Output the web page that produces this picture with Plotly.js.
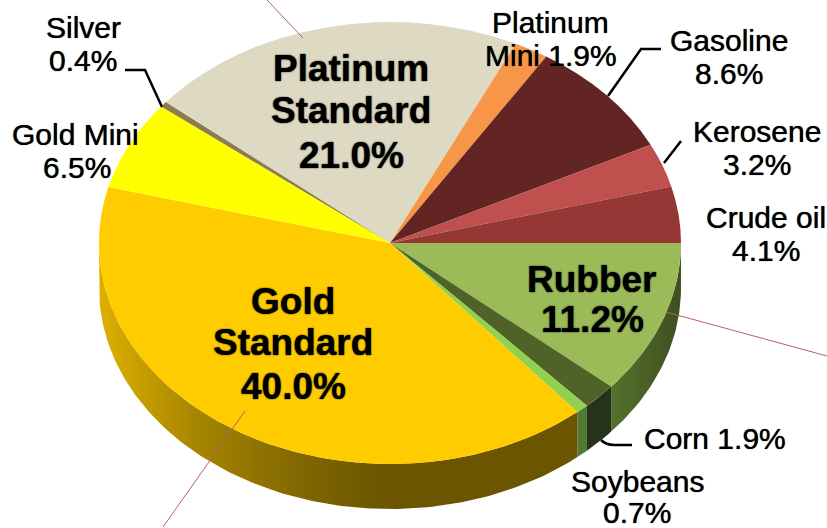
<!DOCTYPE html>
<html>
<head>
<meta charset="utf-8">
<script src="https://cdn.plot.ly/plotly-3.0.1.min.js"></script>
<style>html,body{margin:0;padding:0;background:#fff}#chart{width:827px;height:528px}</style>
</head>
<body>
<div id="chart"></div>
<script>
// Data (clockwise from 3 o'clock)
var categories = ['Rubber','Corn','Soybeans','Gold Standard','Gold Mini','Silver','Platinum Standard','Platinum Mini','Gasoline','Kerosene','Crude oil'];
var shares = [11.2,1.9,0.7,40.0,6.5,0.4,21.0,1.9,8.6,3.2,4.1];
var topColors = ['#9BBB59','#4F6228','#92D050','#FFCC00','#FFFF00','#8C7A50','#DDD9C3','#F79646','#632523','#C0504D','#953735'];
var wallRamps = [
  [[0,'#55702C'],[1,'#3F5020']],
  [[0,'#26331A'],[1,'#26331A']],
  [[0,'#4F7A30'],[1,'#4F7A30']],
  [[0,'#DDB000'],[0.2,'#A88600'],[0.42,'#806700'],[0.6,'#6B5500'],[1,'#6B5500']]
];

var labelLines = [
 ['Silver',83,27,30,false],['0.4%',83,60,30,false],
 ['Gold Mini',75,134,30,false],['6.5%',77,167,30,false],
 ['Platinum',351,68,37,true],['Standard',351,110,37,true],['21.0%',351,155,37,true],
 ['Platinum',550,22,30,false],['Mini 1.9%',551,55,30,false],
 ['Gasoline',729,40,30,false],['8.6%',729,73,30,false],
 ['Kerosene',757,131,30,false],['3.2%',757,164,30,false],
 ['Crude oil',766,217,30,false],['4.1%',766,250,30,false],
 ['Rubber',592,279,37,true],['11.2%',592,319,37,true],
 ['Corn 1.9%',715,438,30,false],
 ['Soybeans',637,481,30,false],['0.7%',637,512,30,false],
 ['Gold',293,301,37,true],['Standard',293,342,37,true],['40.0%',293,386,37,true]
];
var blackLeaders = ['M125,70 L145,70 L162,107','M661,49 L641,49 L608,96','M681,141 L664,163','M632,445 L614,445 Q606,445 601,440'];
var redLeaders = ['M267,0 L303,38','M666,312 L827,356','M245,411 L163,527'];

var cx = 390, cy = 243, rx = 291, ry = 221, depth = 45;
var W = 827, H = 528;
var total = shares.reduce(function(a,b){return a+b;},0);

var traces = [];
var start = 0;
wallRamps.forEach(function(ramp,i){
  var end = start + shares[i]/total*360;
  var stop = Math.min(end,180);
  var xs=[], ys=[], a;
  var n = Math.max(2,Math.ceil(stop-start));
  for(var k=0;k<=n;k++){ a=(start+(stop-start)*k/n)*Math.PI/180; xs.push(cx+rx*Math.cos(a)); ys.push(cy+ry*Math.sin(a)); }
  for(k=n;k>=0;k--){ a=(start+(stop-start)*k/n)*Math.PI/180; xs.push(cx+rx*Math.cos(a)); ys.push(cy+depth+ry*Math.sin(a)); }
  xs.push(xs[0]); ys.push(ys[0]);
  traces.push({type:'scatter',mode:'lines',x:xs,y:ys,fill:'toself',line:{width:0,color:ramp[0][1]},
    fillcolor:ramp[0][1],
    fillgradient:{type:'horizontal',colorscale:ramp},
    hoverinfo:'skip',showlegend:false});
  start = end;
});

traces.push({type:'pie',labels:categories,values:shares,sort:false,direction:'clockwise',rotation:90,
  marker:{colors:topColors,line:{width:0}},textinfo:'none',hoverinfo:'none',showlegend:false,
  domain:{x:[(cx-ry)/W,(cx+ry)/W],y:[(H-cy-ry)/H,(H-cy+ry)/H]}});

var annotations = labelLines.map(function(l){
  return {text:l[0],x:l[1],y:l[2],xref:'x',yref:'y',xanchor:'center',yanchor:'middle',showarrow:false,
    font:{family:'"Liberation Sans",Arial,sans-serif',size:l[3],color:'#000',weight:l[4]?'bold':'normal',
      shadow:l[4]?'0 0 1.5px #000':'0 0 0.8px #000'}};
});
var shapes = blackLeaders.map(function(p){return {type:'path',path:p,xref:'x',yref:'y',line:{color:'#000',width:2.5},layer:'above'};})
  .concat(redLeaders.map(function(p){return {type:'path',path:p,xref:'x',yref:'y',line:{color:'#BC5A72',width:1},layer:'above'};}));

var layout = {width:W,height:H,margin:{l:0,r:0,t:0,b:0},paper_bgcolor:'#fff',plot_bgcolor:'#fff',showlegend:false,
  xaxis:{range:[0,W],visible:false,fixedrange:true},yaxis:{range:[H,0],visible:false,fixedrange:true},
  annotations:annotations,shapes:shapes};

Plotly.newPlot('chart',traces,layout,{displayModeBar:false,staticPlot:true}).then(function(gd){
  var layer = gd.querySelector('.pielayer');
  if(layer) layer.setAttribute('transform','translate('+cx+',0) scale('+(rx/ry)+',1) translate('+(-cx)+',0)');
});
</script>
</body>
</html>
